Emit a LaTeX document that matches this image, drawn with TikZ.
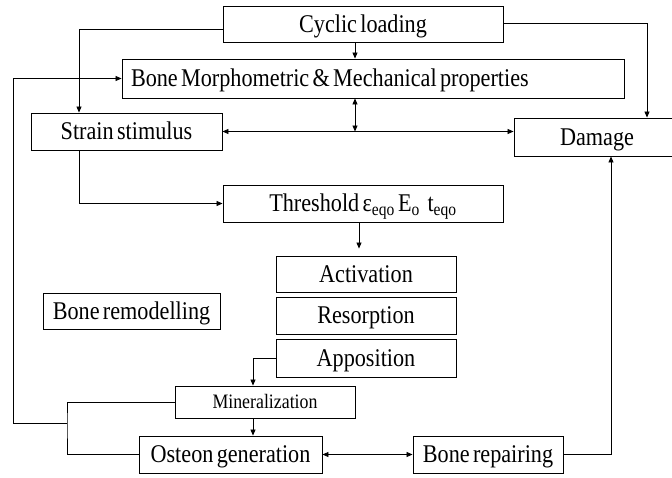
\documentclass[tikz,border=0pt]{standalone}
\usepackage{fontspec}
\setmainfont[FakeStretch=0.87,WordSpace=0.6]{Liberation Serif}
\usetikzlibrary{arrows.meta}
\tikzset{
  box/.style={draw, line width=0.9pt, inner sep=0pt, font=\fontsize{25.5}{28}\selectfont, text height=16.9pt, text depth=0pt, anchor=center},
  arr/.style={line width=0.8pt, -{Triangle[length=6pt,width=5pt]}},
  darr/.style={line width=0.8pt, {Triangle[length=6pt,width=5pt]}-{Triangle[length=6pt,width=5pt]}},
  ln/.style={line width=0.8pt}
}
\begin{document}
\begin{tikzpicture}[x=1pt,y=-1pt]
\useasboundingbox (0,0) rectangle (672,477);
\node[box, minimum width=280, minimum height=36] (cyc) at (363,24) {Cyclic loading};
\node[box, minimum width=502, minimum height=39, inner xsep=9pt] (bmp) at (373,78.5) {\makebox[484pt][l]{Bone Morphometric \& Mechanical properties}};
\node[box, minimum width=191, minimum height=37] (strain) at (126.5,131.5) {Strain stimulus};
\node[box, minimum width=166, minimum height=38] (dmg) at (597,137) {Damage};
\node[box, minimum width=280, minimum height=37] (thr) at (363,203.5) {Threshold ε\textsubscript{eqo} E\textsubscript{o}\, t\textsubscript{eqo}};
\node[box, minimum width=180, minimum height=36] (act) at (366,274) {Activation};
\node[box, minimum width=180, minimum height=37] (res) at (366,315.5) {Resorption};
\node[box, minimum width=180, minimum height=38] (app) at (366,358) {Apposition};
\node[box, minimum width=177, minimum height=36] (rem) at (131.5,311) {Bone remodelling};
\node[box, minimum width=180, minimum height=32, font=\fontsize{20.5}{23}\selectfont, text height=13.6pt] (min) at (265,402) {Mineralization};
\node[box, minimum width=183, minimum height=37] (ost) at (230.5,454.5) {Osteon generation};
\node[box, minimum width=150, minimum height=37] (rep) at (488,454.5) {Bone repairing};
\coordinate (fb) at (67,423);
\coordinate (fl) at (13,423);
% connectors
\draw[arr] ([yshift=-5pt]cyc.west) -| ([xshift=-47.5pt]strain.north);
\draw[arr] ([yshift=1pt]cyc.east) -| ([xshift=50pt]dmg.north);
\draw[arr] ([xshift=-8pt]cyc.south) -- ([xshift=-8pt]cyc.south |- bmp.north);
\draw[darr] (strain.east) -- (strain.east -| dmg.west);
\draw[darr] ([xshift=-8pt]cyc.south |- bmp.south) -- ([xshift=-8pt]cyc.south |- strain.east);
\draw[arr] ([xshift=-47.5pt]strain.south) |- (thr.west);
\draw[arr] ([xshift=-4pt]thr.south) -- ([xshift=-4pt,yshift=7pt]thr.south |- act.north);
\draw[arr] (app.west) -| ([xshift=-12pt]min.north);
\draw[arr] ([xshift=-12pt]min.south) -- ([xshift=-12pt]min.south |- ost.north);
\draw[ln] (min.west) -| (fb) |- (ost.west);
\draw[arr] (fb) -- (fl) |- (bmp.west);
\draw[darr] (ost.east) -- (rep.west);
\draw[arr] (rep.east) -| ([xshift=14pt]dmg.south);
\end{tikzpicture}
\end{document}
